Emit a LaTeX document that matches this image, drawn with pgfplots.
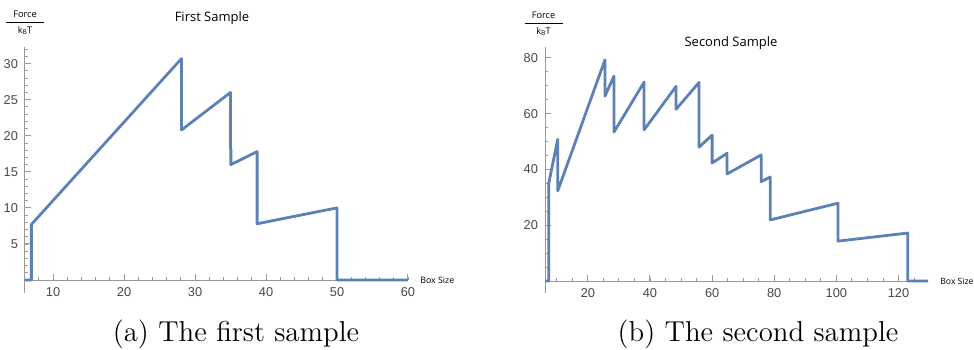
\documentclass[border=0pt]{standalone}
\usepackage{pgfplots}
\pgfplotsset{compat=1.18}
\usepackage{fontspec}
\newfontfamily\mfont{Liberation Sans}
\newfontfamily\sfont{Open Sans}
\definecolor{mblue}{RGB}{94,129,181}
\definecolor{maxis}{gray}{0.6}
\pgfplotsset{mstyle/.style={
  scale only axis, width=191.5pt, height=123pt,
  axis x line=middle, axis y line=left,
  axis line style={-, draw=maxis, line width=0.5pt},
  every tick/.style={draw=maxis, line width=0.5pt},
  every minor tick/.style={draw=maxis, line width=0.45pt},
  xtick align=inside, ytick align=inside,
  major tick length=2.8pt, minor tick length=1.7pt,
  tick label style={font=\mfont\fontsize{6.4}{7}\selectfont, text=black!72},
  /pgf/number format/assume math mode=true,
  clip=false,
}}
\tikzset{mline/.style={draw=mblue, line width=1.4pt, line join=round, mark=none}}
\begin{document}
\begin{tikzpicture}
\useasboundingbox (0,0) rectangle (487pt,-174.5pt);
% ---------- first sample ----------
\begin{axis}[mstyle, at={(12.5pt,-146.5pt)}, anchor=south west,
  xmin=6.05, xmax=60, ymin=-1.8, ymax=32.3,
  xtick={10,20,...,60}, minor xtick={8,10,...,60},
  ytick={5,10,...,30}, minor ytick={1,2,...,32}]
\addplot[mline] coordinates {(6.05,0) (6.95,0) (6.95,7.7) (28.1,30.7) (28.1,20.8) (35,26)
  (35,18.2) (35.05,18.2) (35.05,16) (38.75,17.8) (38.75,7.8) (50,10) (50,0) (60,0)};
\end{axis}
% ---------- second sample ----------
\begin{axis}[mstyle, at={(272.5pt,-146.5pt)}, anchor=south west,
  xmin=6.2, xmax=129.5, ymin=-4.3, ymax=83.9,
  xtick={20,40,...,120}, minor xtick={10,15,...,125},
  ytick={20,40,...,80}, minor ytick={5,10,...,80}]
\addplot[mline] coordinates {(6.2,0) (7.4,0) (7.4,35) (10.3,50.8) (10.3,32.3) (25.5,79.3)
  (25.5,66.3) (28.4,73.5) (28.4,53.4) (38.1,71.3) (38.1,54.2) (48.4,69.8)
  (48.4,61.6) (55.8,71.2) (55.8,48) (60,52.3) (60,42.3) (64.8,45.8) (64.8,38.4)
  (75.8,45.2) (75.8,35.6) (78.7,37.3) (78.7,21.9) (100.5,27.9) (100.5,14.3)
  (123,17.2) (123,0) (129.5,0)};
\end{axis}
% ---------- texts ----------
\node[font=\sfont\fontsize{6.5}{8}\selectfont] at (106pt,-9pt) {First Sample};
\node[font=\sfont\fontsize{6.5}{8}\selectfont] at (365.5pt,-21.5pt) {Second Sample};
\foreach \cx/\cy in {12.5/-11, 271.75/-11.5} {
  \node[font=\sfont\fontsize{4.6}{6}\selectfont, anchor=base] at (\cx pt,\cy pt+2.2pt) {Force};
  \node[font=\sfont\fontsize{4.6}{6}\selectfont, anchor=base] at (\cx pt,\cy pt-5.6pt) {k\raisebox{-0.3ex}{\fontsize{3.3}{4}\selectfont B}T};
  \draw[line width=0.5pt] (\cx pt-9.5pt,\cy pt) -- (\cx pt+9.5pt,\cy pt);
}
\node[font=\sfont\fontsize{4.4}{6}\selectfont, anchor=west, inner sep=0pt] at (210pt,-140pt) {Box Size};
\node[font=\sfont\fontsize{4.3}{6}\selectfont, anchor=west, inner sep=0pt] at (470pt,-140.5pt) {Box Size};
\node[font=\fontsize{14.4}{17}\selectfont] at (118pt,-167pt) {(a) The first sample};
\node[font=\fontsize{14.4}{17}\selectfont] at (379pt,-167pt) {(b) The second sample};
\end{tikzpicture}
\end{document}
